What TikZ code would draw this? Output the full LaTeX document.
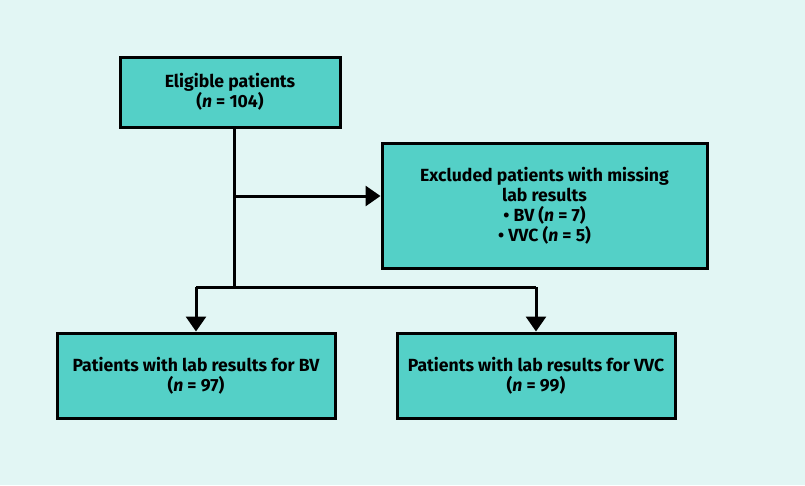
\documentclass[tikz,border=0pt]{standalone}
\usepackage{fontspec}
\setmainfont{Fira Sans}
\usetikzlibrary{arrows.meta}
\definecolor{bgc}{RGB}{226,246,244}
\definecolor{boxc}{RGB}{84,208,199}
\begin{document}
\begin{tikzpicture}[x=1pt,y=-1pt,
  box/.style={draw=black,line width=3pt,fill=boxc,inner sep=0pt,align=center,font=\bfseries\fontsize{17.6}{20}\selectfont},
  conn/.style={line width=3pt},
  arr/.style={conn,-{Triangle[length=15pt,width=20pt]}}]
\fill[bgc] (0,0) rectangle (805,485);
\useasboundingbox (0,0) rectangle (805,485);
\node[box,minimum width=220pt,minimum height=70pt] (elig) at (230,92) {Eligible patients\\(\textit{n} = 104)};
\node[box,minimum width=325pt,minimum height=125pt] (excl) at (544.5,205.5) {Excluded patients with missing\\lab results\\• BV (\textit{n} = 7)\\• VVC (\textit{n} = 5)};
\node[box,minimum width=278pt,minimum height=85pt] (bv) at (196,375.5) {Patients with lab results for BV\\(\textit{n} = 97)};
\node[box,minimum width=278pt,minimum height=85pt] (vvc) at (536,375.5) {Patients with lab results for VVC\\(\textit{n} = 99)};
\coordinate (split) at (234,287);
\coordinate (mid) at (234,196);
\draw[conn] (elig.south -| split) -- (split);
\draw[arr] (mid) -- (excl.west |- mid);
\draw[conn] (bv.north |- split) -- (vvc.north |- split);
\draw[arr] (bv.north |- split) -- (bv.north);
\draw[arr] (vvc.north |- split) -- (vvc.north);
\end{tikzpicture}
\end{document}
